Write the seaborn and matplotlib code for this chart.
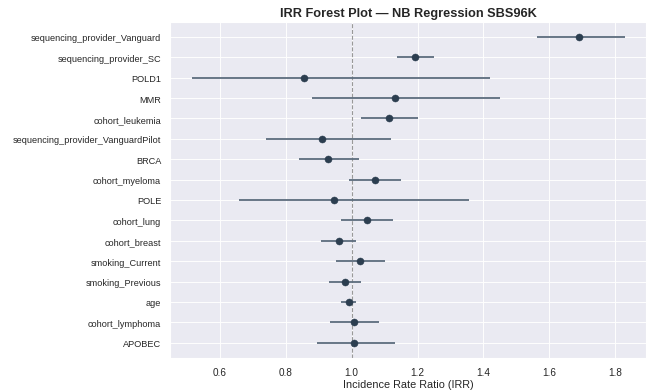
import numpy as np
import pandas as pd
import matplotlib
matplotlib.use("Agg")
import matplotlib.pyplot as plt
import seaborn as sns

# Incidence rate ratios with 95% confidence intervals
variables = [
    "sequencing_provider_Vanguard", "sequencing_provider_SC", "POLD1", "MMR",
    "cohort_leukemia", "sequencing_provider_VanguardPilot", "BRCA",
    "cohort_myeloma", "POLE", "cohort_lung", "cohort_breast",
    "smoking_Current", "smoking_Previous", "age", "cohort_lymphoma", "APOBEC",
]
irr = [1.691, 1.193, 0.854, 1.131, 1.112, 0.910, 0.927, 1.070, 0.946,
       1.045, 0.960, 1.025, 0.979, 0.991, 1.007, 1.007]
ci_low = [1.562, 1.138, 0.514, 0.880, 1.027, 0.741, 0.841, 0.993, 0.658,
          0.969, 0.908, 0.951, 0.932, 0.969, 0.935, 0.896]
ci_high = [1.828, 1.249, 1.420, 1.451, 1.202, 1.119, 1.022, 1.150, 1.356,
           1.125, 1.013, 1.102, 1.028, 1.013, 1.084, 1.131]

df = pd.DataFrame({"variable": variables, "irr": irr,
                   "lo": ci_low, "hi": ci_high})
df["pos"] = np.arange(len(df))

sns.set_theme(style="darkgrid")
plt.rcParams["font.family"] = ["Liberation Sans", "DejaVu Sans"]

fig, ax = plt.subplots(figsize=(10, 5.96), dpi=65.6)
fig.subplots_adjust(left=0.259, right=0.985, top=0.942, bottom=0.082)

ax.hlines(df["pos"], df["lo"], df["hi"], color="#5d6d7e", linewidth=2, zorder=2)
sns.scatterplot(data=df, x="irr", y="pos", color="#2c3e50", s=60,
                edgecolor="#2c3e50", linewidth=0.5, zorder=3, ax=ax)
ax.axvline(1.0, color="#999999", linestyle="--", linewidth=1.2, zorder=1)

ax.set_yticks(df["pos"])
ax.set_yticklabels(df["variable"], fontsize=10)
ax.invert_yaxis()
ax.tick_params(axis="x", labelsize=11)
ax.set_ylabel("")
ax.set_xlabel("Incidence Rate Ratio (IRR)", fontsize=12, labelpad=3)
ax.set_title("IRR Forest Plot — NB Regression SBS96K", fontsize=14,
             fontweight="bold", pad=6)

fig.savefig("out.png", dpi=65.6)
